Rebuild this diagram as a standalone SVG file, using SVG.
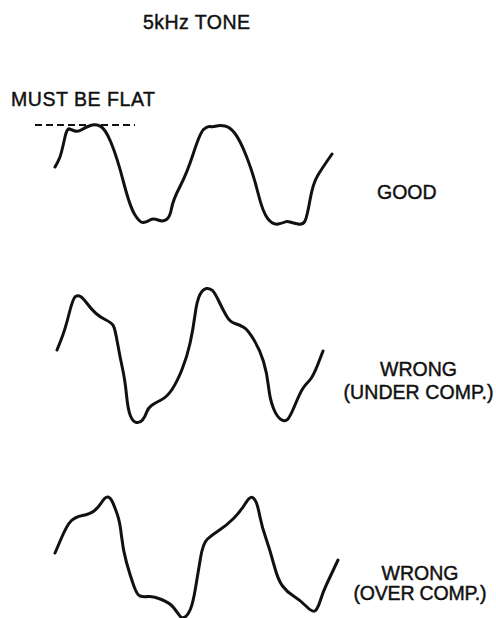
<svg xmlns="http://www.w3.org/2000/svg" width="496" height="618" viewBox="0 0 496 618">
<style>
.t{font-family:"Liberation Sans",Arial,sans-serif;font-size:19.5px;fill:#111;stroke:#111;stroke-width:0.45;}
.m{text-anchor:middle;}
.w{fill:none;stroke:#111;stroke-width:3;stroke-linecap:round;stroke-linejoin:round;}
.d{fill:none;stroke:#111;stroke-width:2;stroke-dasharray:7 4;}
</style>
<rect width="496" height="618" fill="#fff"/>
<g id="title"><text class="t" x="143" y="29" textLength="107">5kHz TONE</text></g>
<g id="flat-label"><text class="t" x="11" y="106" textLength="144">MUST BE FLAT</text></g>
<g id="flat-line"><line class="d" x1="35" y1="125" x2="135" y2="125"/></g>
<g id="wave-good">
<path class="w" d="M55,167 L57.5,162.5 Q60,158 61.5,152 Q63,146 65,137 Q67,128 69.5,129 Q72,130 75,131 Q78,132 82,129.5 Q86,127 90.5,125.5 Q95,124 100,126 Q105,128 111,142.5 Q117,157 123.5,182 Q130,207 135,215 Q140,223 143.5,222.5 Q147,222 150,220 Q153,218 158,220 Q163,222 166.5,219.5 Q170,217 171.5,208.5 Q173,200 180,186.5 Q187,173 193.5,153 Q200,133 203.5,129.5 Q207,126 210,126.5 Q213,127 216.5,126 Q220,125 225,126 Q230,127 235,133.5 Q240,140 246.5,156.5 Q253,173 258,193 Q263,213 268,219 Q273,225 278,224 Q283,223 285,222 Q287,221 290,222 Q293,223 298,224 Q303,225 305,221 Q307,217 310,200 Q313,183 318,175 Q323,167 327.5,160.5 L332,154"/>
</g>
<g id="label-good"><text class="t" x="377" y="199">GOOD</text></g>
<g id="wave-under">
<path class="w" d="M57,350 L61,340 Q65,330 69,314 Q73,298 75.5,296.5 Q78,295 80.5,296.5 Q83,298 87.5,304 Q92,310 96,313.5 Q100,317 106,320 Q112,323 113.5,326 Q115,329 117.5,343 Q120,357 122.5,368.5 Q125,380 126.5,395 Q128,410 130.5,416 Q133,422 136.5,422.5 Q140,423 142.5,420 Q145,417 146.5,412.5 Q148,408 151.5,405.5 Q155,403 161,400 Q167,397 172,389.5 Q177,382 182,369.5 Q187,357 190,343.5 Q193,330 195,315 Q197,300 200,294.5 Q203,289 206.5,288.5 Q210,288 212.5,290.5 Q215,293 219,301.5 Q223,310 226.5,316 Q230,322 235,323.5 Q240,325 244,327.5 Q248,330 254,340 Q260,350 263.5,361.5 Q267,373 268.5,386.5 Q270,400 273.5,408.5 Q277,417 281,419.5 Q285,422 287.5,419.5 Q290,417 295,405 Q300,393 302.5,389 Q305,385 309,381 Q313,377 318,364 L323,351"/>
</g>
<g id="label-under">
<text class="t m" x="418.5" y="376">WRONG</text>
<text class="t m" x="418.5" y="399" textLength="150">(UNDER COMP.)</text>
</g>
<g id="wave-over">
<path class="w" d="M55,553 L61,539 Q67,525 71,521 Q75,517 82.5,515.5 Q90,514 94,511 Q98,508 101.5,502.5 Q105,497 107.5,497 Q110,497 112,501 Q114,505 117,513.5 Q120,522 121.5,536 Q123,550 126.5,562.5 Q130,575 133.5,585 Q137,595 140,596 Q143,597 148,596.5 Q153,596 161.5,599.5 Q170,603 173.5,607.5 Q177,612 179.5,615.5 Q182,619 185,617 Q188,615 190.5,609 Q193,603 195.5,588 Q198,573 200.5,558 Q203,543 207.5,539 Q212,535 219.5,530 Q227,525 233.5,518.5 Q240,512 245,504 Q250,496 252.5,497.5 Q255,499 256.5,503 Q258,507 260,517 Q262,527 266,538.5 Q270,550 274,565 Q278,580 282.5,586 Q287,592 293.5,596 Q300,600 306.5,606.5 Q313,613 315.5,610.5 Q318,608 320.5,600 Q323,592 326.5,584.5 Q330,577 334,568.5 L338,560"/>
</g>
<g id="label-over">
<text class="t m" x="420" y="580">WRONG</text>
<text class="t m" x="420" y="600" textLength="133">(OVER COMP.)</text>
</g>
</svg>
